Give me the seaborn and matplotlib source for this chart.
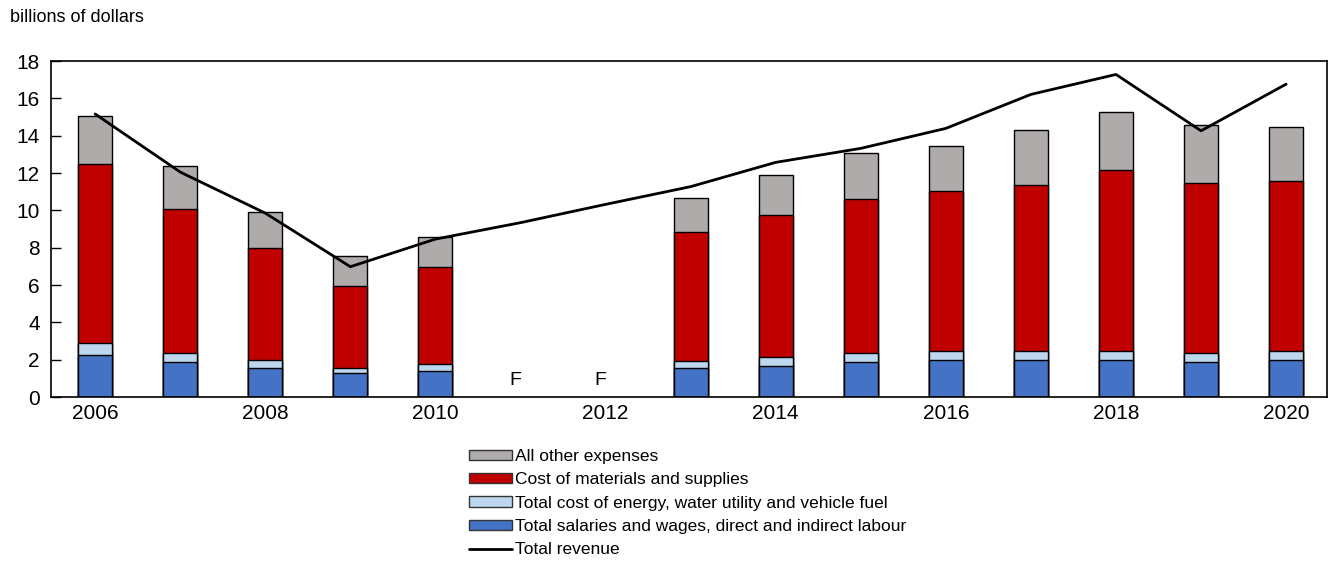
import numpy as np
import pandas as pd
import matplotlib
matplotlib.use("Agg")
import matplotlib.pyplot as plt
from matplotlib.patches import Patch
from matplotlib.lines import Line2D
import seaborn as sns

years = ["2006", "2007", "2008", "2009", "2010", "2011", "2012", "2013",
         "2014", "2015", "2016", "2017", "2018", "2019", "2020"]
salaries = [2.25, 1.86, 1.57, 1.27, 1.38, np.nan, np.nan, 1.55, 1.64, 1.86, 1.97, 1.97, 1.97, 1.86, 1.97]
energy = [0.62, 0.51, 0.39, 0.30, 0.39, np.nan, np.nan, 0.40, 0.52, 0.48, 0.48, 0.48, 0.48, 0.48, 0.48]
materials = [9.59, 7.68, 6.00, 4.39, 5.19, np.nan, np.nan, 6.91, 7.61, 8.29, 8.61, 8.91, 9.71, 9.10, 9.10]
other = [2.61, 2.32, 1.93, 1.61, 1.63, np.nan, np.nan, 1.82, 2.10, 2.42, 2.40, 2.92, 3.12, 3.11, 2.93]
revenue = [15.16, 12.05, 9.85, 6.98, 8.46, 9.34, 10.32, 11.27, 12.57, 13.32, 14.39, 16.21, 17.28, 14.26, 16.76]
suppressed = ["2011", "2012"]

labels = ["All other expenses", "Cost of materials and supplies",
          "Total cost of energy, water utility and vehicle fuel",
          "Total salaries and wages, direct and indirect labour", "Total revenue"]
colors = ["#AFABAB", "#C00000", "#BDD7EE", "#4472C4"]

df = pd.DataFrame({"year": years, "salaries": salaries, "energy": energy,
                   "materials": materials, "other": other, "revenue": revenue})
df["c1"] = df["salaries"]
df["c2"] = df["c1"] + df["energy"]
df["c3"] = df["c2"] + df["materials"]
df["c4"] = df["c3"] + df["other"]

sns.set_theme(style="ticks", rc={"text.color": "black", "xtick.color": "black",
                                 "ytick.color": "black", "axes.edgecolor": "black"})
plt.rcParams["font.family"] = ["Liberation Sans", "DejaVu Sans"]

fig = plt.figure(figsize=(13.3, 5.67), dpi=100)
ax = fig.add_axes([0.0383, 0.2998, 0.9594, 0.5926])

# draw cumulative totals from the top layer down, so lower layers cover them
for col, c in zip(["c4", "c3", "c2", "c1"], colors):
    sns.barplot(data=df, x="year", y=col, order=years, color=c, width=0.4,
                edgecolor="black", linewidth=1.0, saturation=1, ax=ax, errorbar=None)

sns.lineplot(x=np.arange(len(years)), y=df["revenue"], color="black", linewidth=2.0, ax=ax)

for y in suppressed:
    ax.text(years.index(y) - 0.06, 0.45, "F", ha="center", va="bottom", fontsize=14)

ax.set_ylim(0, 18)
ax.set_xlim(-0.52, len(years) - 0.52)
ax.set_yticks(range(0, 19, 2))
ax.set_xticks(range(len(years)))
ax.set_xticklabels([y if i % 2 == 0 else "" for i, y in enumerate(years)])
ax.tick_params(axis="y", direction="in", length=7, width=1.0, labelsize=15, pad=8)
ax.tick_params(axis="x", length=0, labelsize=15, pad=5)
ax.set_xlabel("")
ax.set_ylabel("")
for s in ax.spines.values():
    s.set_visible(True)
    s.set_color("black")
    s.set_linewidth(1.2)

fig.text(0.0075, 1 - 18 / 567, "billions of dollars", fontsize=13, va="center", ha="left")

handles = [Patch(facecolor=c, edgecolor="#333333", linewidth=1.0) for c in colors]
handles.append(Line2D([0], [0], color="black", linewidth=2.0))
fig.legend(handles, labels, loc="upper left", bbox_to_anchor=(0.3525, 0.208), frameon=False,
           fontsize=12.5, handlelength=2.5, handleheight=0.55, handletextpad=0.15,
           labelspacing=0.48, borderaxespad=0, borderpad=0)

fig.savefig("out.png", dpi=100)
